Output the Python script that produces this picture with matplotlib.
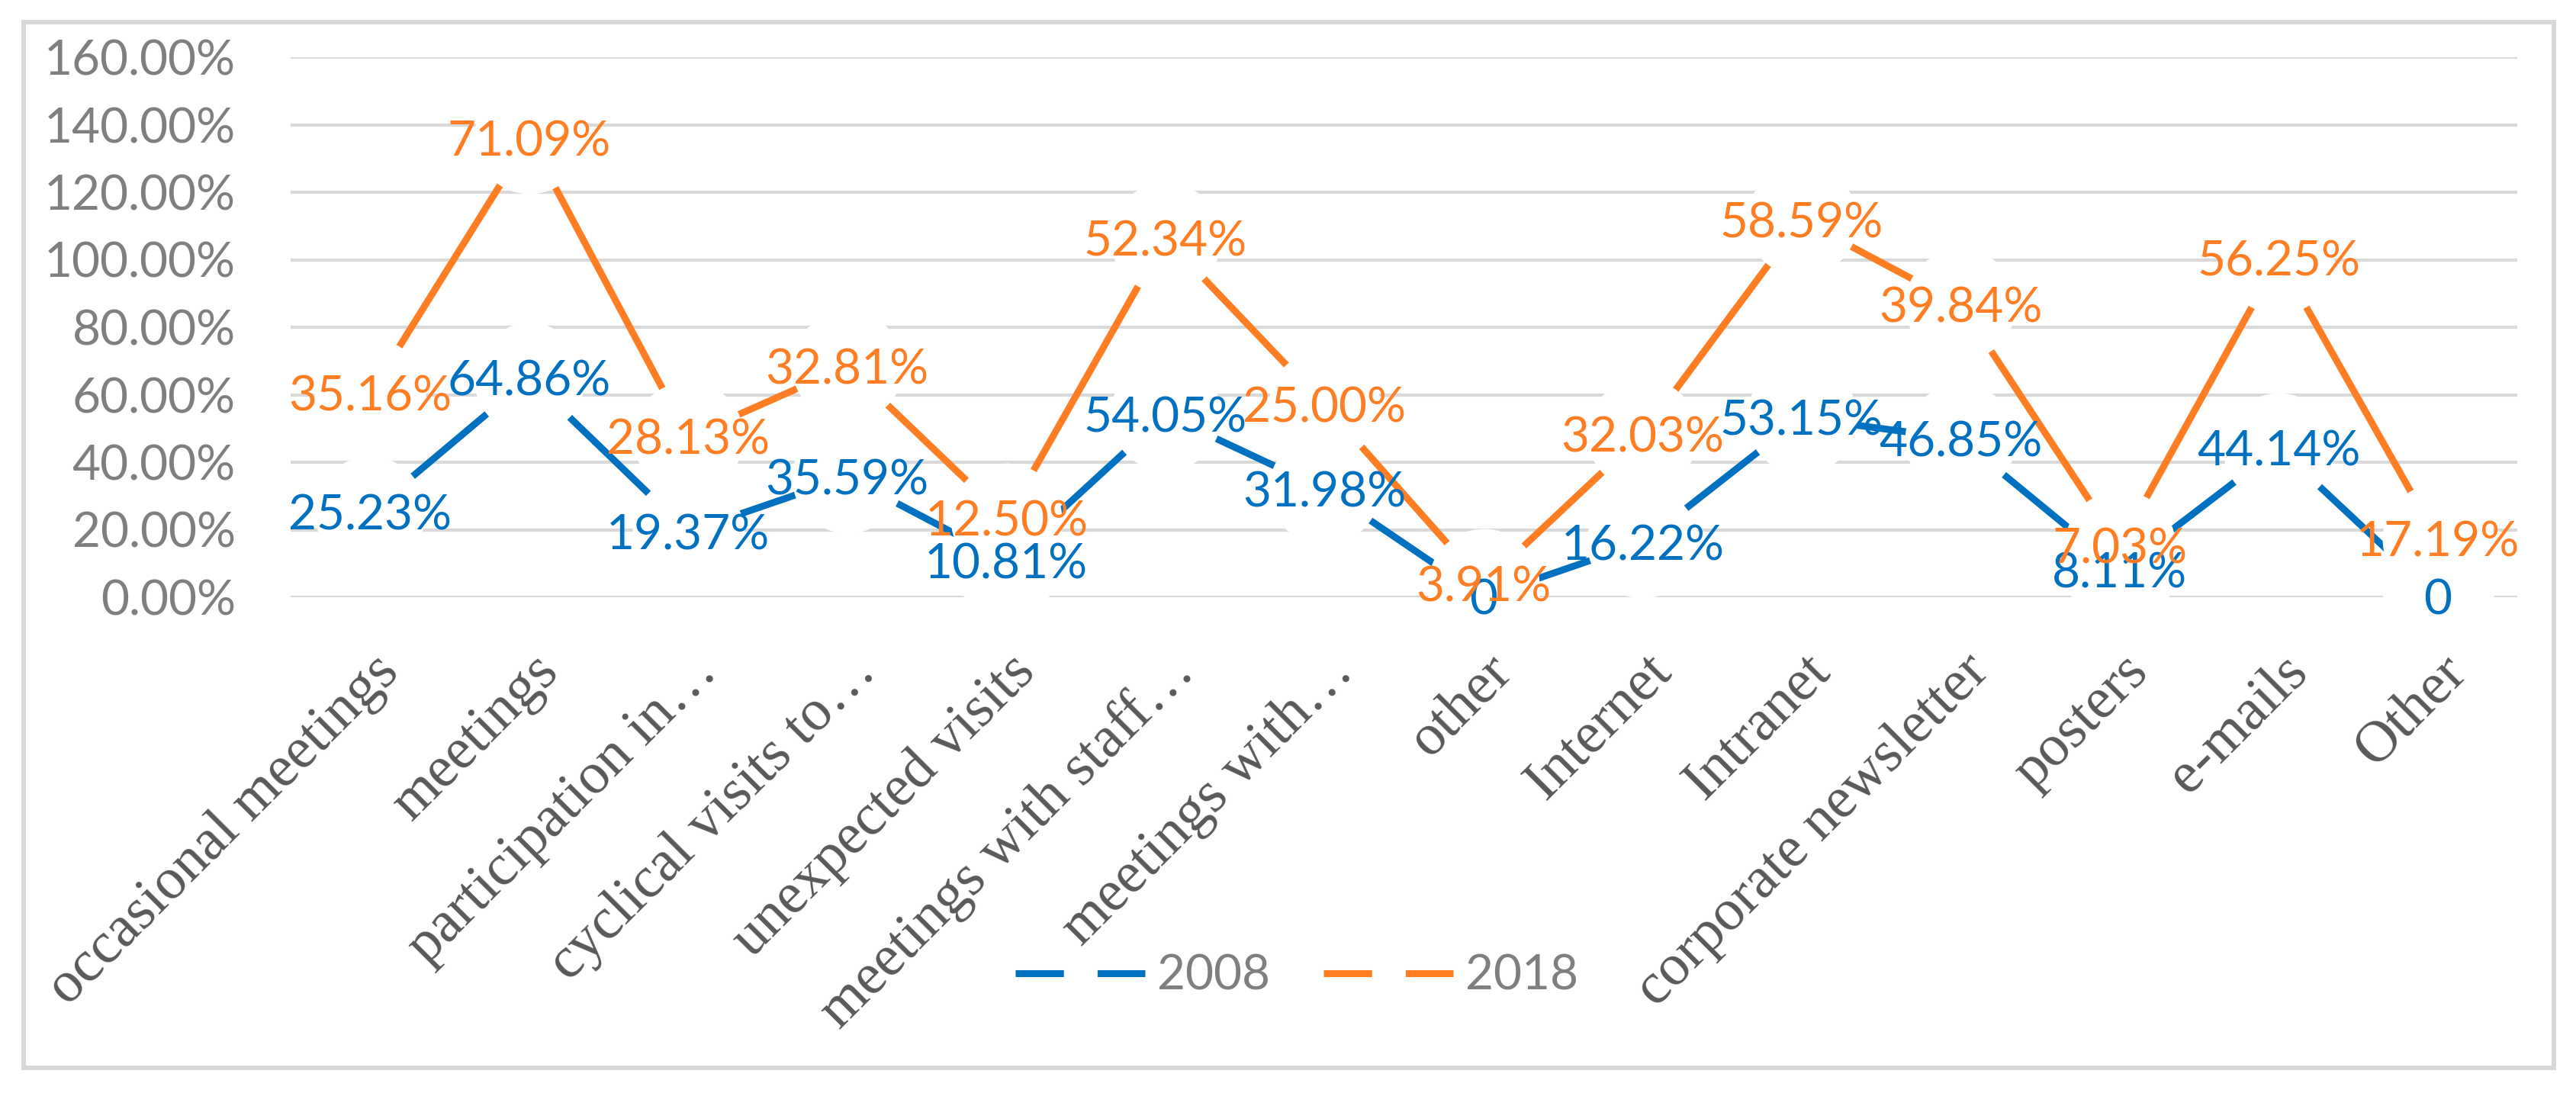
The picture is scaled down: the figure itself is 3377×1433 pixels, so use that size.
import matplotlib
matplotlib.use("Agg")
import matplotlib.pyplot as plt
import matplotlib.ticker as mticker
import matplotlib.transforms as mtrans
from matplotlib.lines import Line2D
from matplotlib.patches import Rectangle
import numpy as np

categories = ["occasional meetings", "meetings", "participation in…", "cyclical visits to…",
              "unexpected visits", "meetings with staff…", "meetings with…", "other",
              "Internet", "Intranet", "corporate newsletter", "posters", "e-mails", "Other"]
y2008 = [25.23, 64.86, 19.37, 35.59, 10.81, 54.05, 31.98, 0, 16.22, 53.15, 46.85, 8.11, 44.14, 0]
y2018 = [35.16, 71.09, 28.13, 32.81, 12.50, 52.34, 25.00, 3.91, 32.03, 58.59, 39.84, 7.03, 56.25, 17.19]
series_names = ["2008", "2018"]
y_ticks = [0, 20, 40, 60, 80, 100, 120, 140, 160]

blue = '#0070C0'
orange = '#FF7D23'
grey_txt = '#7F7F7F'
W, H = 3377, 1433

fig = plt.figure(figsize=(W / 100, H / 100), dpi=100)
ax = fig.add_axes([381 / W, 1 - 783 / H, (3300 - 381) / W, (783 - 75) / H])

x = np.arange(len(categories))
a = np.array(y2008)
b = a + np.array(y2018)  # stacked line chart

ax.set_xlim(-0.5, len(categories) - 0.5)
ax.set_ylim(0, 160)
ax.set_yticks(y_ticks)
ax.yaxis.set_major_formatter(mticker.FuncFormatter(lambda v, p: "%.2f%%" % v))
ax.grid(axis='y', color='#D9D9D9', lw=3)
ax.set_axisbelow(True)
for s in ax.spines.values():
    s.set_visible(False)
ax.tick_params(axis='both', length=0)
ax.tick_params(axis='y', pad=52, labelsize=46, labelcolor=grey_txt)
for lab in ax.get_yticklabels():
    lab.set_family('Lato')

ax.set_xticks(x)
ax.set_xticklabels(categories, rotation=45, ha='right', va='baseline', rotation_mode='anchor',
                   fontsize=55, family='Liberation Serif', color='#595959')
ax.tick_params(axis='x', pad=72)
off = mtrans.ScaledTranslation(0.4, 0, fig.dpi_scale_trans)
for lab in ax.get_xticklabels():
    lab.set_transform(lab.get_transform() + off)

# lines with big white markers (hide the line/grid around each label)
ax.plot(x, a, color=blue, lw=6.5, marker='o', ms=105, mfc='white', mec='none',
        clip_on=False, zorder=3)
ax.plot(x, b, color=orange, lw=6.5, marker='o', ms=105, mfc='white', mec='none',
        clip_on=False, zorder=4)


def fmt(v):
    return "0" if v == 0 else "%.2f%%" % v


for xi, yi, v in zip(x, a, y2008):
    ax.annotate(fmt(v), (xi, yi), xytext=(0, -16.5), textcoords='offset points',
                ha='center', va='baseline', color=blue, fontsize=46, family='Lato',
                zorder=5, annotation_clip=False)
for xi, yi, v in zip(x, b, y2018):
    ax.annotate(fmt(v), (xi, yi), xytext=(0, -16.5), textcoords='offset points',
                ha='center', va='baseline', color=orange, fontsize=46, family='Lato',
                zorder=6, annotation_clip=False)

handles = [Line2D([], [], color=blue, lw=6.5, dashes=(7.0, 4.9)),
           Line2D([], [], color=orange, lw=6.5, dashes=(7.0, 4.9))]
fig.legend(handles, series_names, loc='center', bbox_to_anchor=(1700 / W, 1 - 1280 / H),
           ncol=2, frameon=False, prop={'family': 'Lato', 'size': 46}, labelcolor=grey_txt,
           handlelength=2.66, handletextpad=0.25, columnspacing=1.1)

fig.patches.append(Rectangle((31 / W, 1 - 1400 / H), (3348 - 31) / W, (1400 - 29) / H,
                             transform=fig.transFigure, fill=False, ec='#D9D9D9', lw=4.3))

fig.savefig('out.png', dpi=100)
